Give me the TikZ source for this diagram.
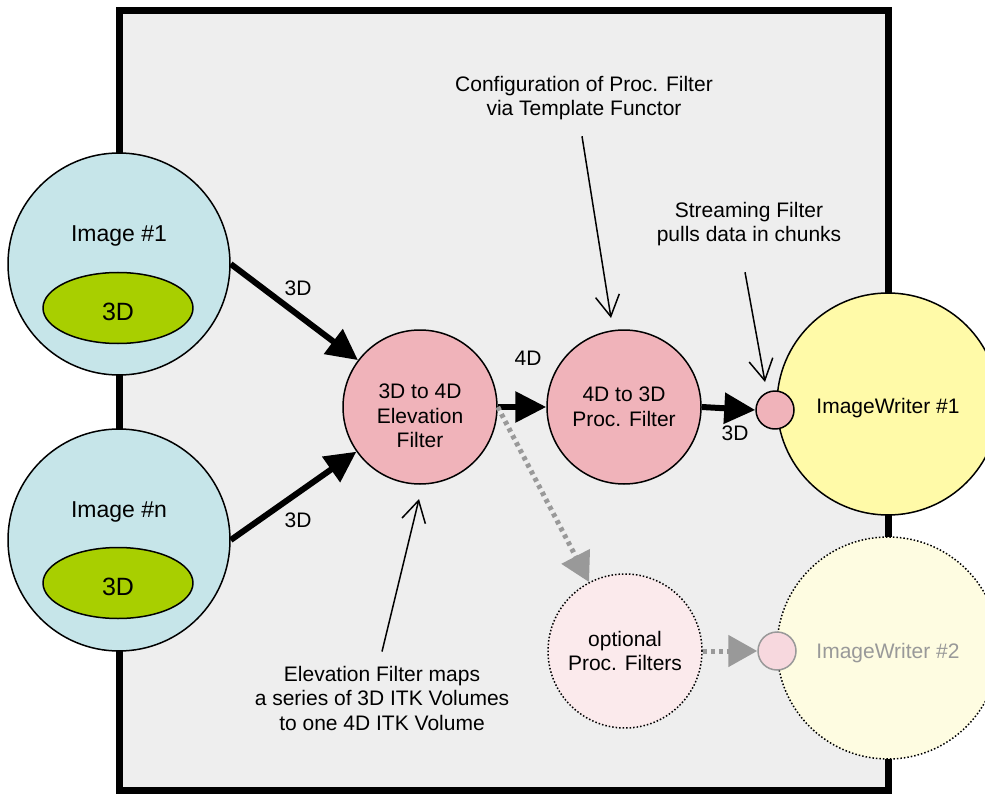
\documentclass[tikz,border=0pt]{standalone}
\usepackage{fontspec}
\setmainfont{Liberation Sans}
\usepackage{tikz}
\usetikzlibrary{arrows.meta}
\usetikzlibrary{shapes.geometric}
\definecolor{panelgray}{HTML}{EEEEEE}
\definecolor{imgblue}{HTML}{C6E5E9}
\definecolor{volgreen}{HTML}{A8CF00}
\definecolor{filterpink}{HTML}{F0B3BA}
\definecolor{optpink}{HTML}{FBEAEC}
\definecolor{sinkpink}{HTML}{F7D8DE}
\definecolor{writeryellow}{HTML}{FFFAA8}
\definecolor{writerpale}{HTML}{FEFCE1}
\definecolor{optgray}{HTML}{999999}

\begin{document}
\begin{tikzpicture}[x=1pt,y=-1pt,line join=round,font=\fontsize{21}{24.5}\selectfont]
\tikzstyle{blob} = [circle,draw=black,line width=1.5pt,inner sep=0pt,align=center]
\tikzstyle{txt} = [align=center,inner sep=0pt]
\tikzstyle{flow} = [line width=6pt,-{Triangle[length=31pt,width=30pt]}]
\tikzstyle{optflow} = [draw=optgray,line width=5pt,dash pattern=on 4pt off 4pt,-{Triangle[length=29pt,width=31pt,color=optgray]}]
\tikzstyle{note} = [line width=1.5pt,-{Straight Barb[length=21pt,width=24pt]}]
\useasboundingbox (0,0) rectangle (985,794);
\filldraw[fill=panelgray,line width=7pt,line join=miter](119,11) rectangle (888,790);
\node[blob,fill=imgblue,minimum size=222pt] (img1) at (119,264) {};
\node[blob,fill=imgblue,minimum size=222pt] (imgn) at (119,540) {};
\node[anchor=base,font=\fontsize{23}{26}\selectfont] (img1lbl) at (119,242) {Image \#1};
\node[anchor=base,font=\fontsize{23}{26}\selectfont] (imgnlbl) at (119,517) {Image \#n};
\node[ellipse,draw=black,line width=1.5pt,fill=volgreen,minimum width=150pt,minimum height=71pt,text height=24pt,text depth=0pt,font=\fontsize{25}{28}\selectfont] (vol1) at (118,308) {3D};
\node[ellipse,draw=black,line width=1.5pt,fill=volgreen,minimum width=150pt,minimum height=71pt,text height=24pt,text depth=0pt,font=\fontsize{25}{28}\selectfont] (voln) at (118,583) {3D};
\node[blob,fill=writeryellow,minimum size=222pt,text height=18pt,text depth=0pt] (writer1) at (888,404) {ImageWriter \#1};
\node[blob,draw=black,dotted,fill=writerpale,text=optgray,minimum size=222pt,text height=20pt,text depth=0pt] (writer2) at (888,648) {ImageWriter \#2};
\node[blob,fill=filterpink,minimum size=154pt] (elev) at (420,407) {};
\node[txt] (elevlbl) at ([yshift=-9pt]elev.center) {3D to 4D\\Elevation\\Filter};
\node[blob,fill=filterpink,minimum size=154pt] (proc) at (624,407) {4D to 3D\\Proc. Filter};
\node[blob,dotted,fill=optpink,minimum size=154pt] (opt) at (625,651) {optional\\Proc. Filters};
\node[blob,fill=filterpink,minimum size=38pt] (sink1) at (775,410) {};
\node[blob,draw=optgray,fill=sinkpink,minimum size=38pt] (sink2) at (777,651) {};
\draw[flow] (img1.east) -- (elev);
\draw[flow] (imgn.east) -- (elev);
\draw[flow] (elev) -- (proc);
\draw[flow] (proc.east) -- (sink1.west);
\draw[optflow] (elev.east) -- (opt);
\draw[optflow] (opt.east) -- (sink2.west);
\path (298,295) node[anchor=base] (lbla) {3D}
      (298,527) node[anchor=base] (lblb) {3D}
      (528,365) node[anchor=base] (lblc) {4D}
      (735,440) node[anchor=base] (lbld) {3D};
\node[txt] (confignote) at (584,98) {Configuration of Proc. Filter\\via Template Functor};
\node[txt] (streamnote) at (749,224) {Streaming Filter\\pulls data in chunks};
\node[txt] (elevnote) at (382,698) {Elevation Filter maps\\a series of 3D ITK Volumes\\to one 4D ITK Volume};
\coordinate (configtip) at (611,318);
\coordinate (streamtip) at (765,382);
\coordinate (elevtip) at (419,499);
\draw[note] ([yshift=-16pt,xshift=-2pt]confignote.south) -- (configtip);
\draw[note] ([yshift=-26pt,xshift=-4pt]streamnote.south) -- (streamtip);
\draw[note] ([yshift=14pt]elevnote.north) -- (elevtip);
\end{tikzpicture}
\end{document}
